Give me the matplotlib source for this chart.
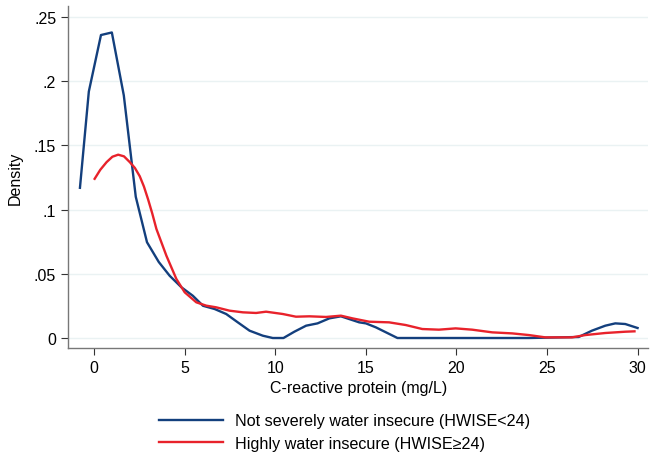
import matplotlib
matplotlib.use("Agg")
import matplotlib.pyplot as plt

plt.rcParams['font.family'] = ['Liberation Sans', 'DejaVu Sans']

# Not severely water insecure (HWISE<24)
crp_low = [-0.77, -0.28, 0.39, 0.99, 1.65, 2.31, 2.93, 3.58, 4.18, 4.83, 5.46, 6.02,
           6.66, 7.30, 7.94, 8.59, 9.32, 9.87, 10.46, 11.06, 11.71, 12.34, 12.99,
           13.63, 14.64, 15.01, 15.56, 16.75, 20.0, 24.0, 26.75, 27.48, 28.22,
           28.77, 29.32, 30.0]
dens_low = [0.117, 0.192, 0.236, 0.238, 0.189, 0.110, 0.0746, 0.0592, 0.0485,
            0.0395, 0.0329, 0.0251, 0.0226, 0.0187, 0.0122, 0.0057, 0.0018, 0.0,
            0.0, 0.0049, 0.0096, 0.0114, 0.0153, 0.0169, 0.0122, 0.0114, 0.0083,
            0.0, 0.0, 0.0, 0.0008, 0.0057, 0.0096, 0.0114, 0.0109, 0.0078]

# Highly water insecure (HWISE>=24)
crp_high = [0.04, 0.35, 0.70, 1.02, 1.34, 1.66, 1.98, 2.26, 2.53, 2.76, 2.99, 3.22,
            3.45, 4.0, 4.55, 5.01, 5.65, 6.2, 6.75, 7.48, 8.22, 8.95, 9.5, 10.42,
            11.15, 11.89, 12.81, 13.63, 14.27, 15.19, 16.29, 17.21, 18.12, 19.04,
            19.96, 20.87, 21.98, 23.08, 24.0, 24.91, 26.38, 27.12, 28.22, 29.32,
            29.83]
dens_high = [0.124, 0.131, 0.137, 0.1412, 0.1428, 0.1415, 0.137, 0.1325, 0.126,
             0.118, 0.108, 0.097, 0.0849, 0.0641, 0.046, 0.0356, 0.0278, 0.0252,
             0.0239, 0.0213, 0.020, 0.0195, 0.0205, 0.0187, 0.0166, 0.0169, 0.0164,
             0.0174, 0.0153, 0.0127, 0.0122, 0.0101, 0.007, 0.0065, 0.0075, 0.0065,
             0.0044, 0.0036, 0.0023, 0.0005, 0.0005, 0.0023, 0.0039, 0.0049, 0.0052]

xticks = [0, 5, 10, 15, 20, 25, 30]
yticks = [0, 0.05, 0.1, 0.15, 0.2, 0.25]
ylabels = ['0', '.05', '.1', '.15', '.2', '.25']

fig = plt.figure(figsize=(6.5, 4.56), dpi=100)
ax = fig.add_axes([0.1046, 0.2346, 0.893, 0.75])

for y in yticks:
    ax.axhline(y, color='#eaf2f3', lw=1.0, zorder=0)

l1, = ax.plot(crp_low, dens_low, color='#133f7d', lw=1.7)
l2, = ax.plot(crp_high, dens_high, color='#e8222b', lw=1.7)

ax.set_xlim(-1.43, 30.6)
ax.set_ylim(-0.0078, 0.2586)
ax.set_xticks(xticks)
ax.set_xticklabels([str(t) for t in xticks])
ax.set_yticks(yticks)
ax.set_yticklabels(ylabels)
ax.tick_params(direction='out', length=5, width=0.8, labelsize=11.5, color='#333333')
for s in ['top', 'right']:
    ax.spines[s].set_visible(False)
for s in ['left', 'bottom']:
    ax.spines[s].set_color('#777777')
    ax.spines[s].set_linewidth(1.0)

ax.set_xlabel('C-reactive protein (mg/L)', fontsize=11.5, labelpad=4)
ax.set_ylabel('Density', fontsize=11.5, labelpad=8)

fig.legend([l1, l2], ['Not severely water insecure (HWISE<24)',
                      'Highly water insecure (HWISE\u226524)'],
           loc='lower left', bbox_to_anchor=(0.222, -0.022), frameon=False,
           fontsize=11.6, handlelength=4.0, handletextpad=0.75, labelspacing=0.45)

fig.savefig('out.png', dpi=100)
